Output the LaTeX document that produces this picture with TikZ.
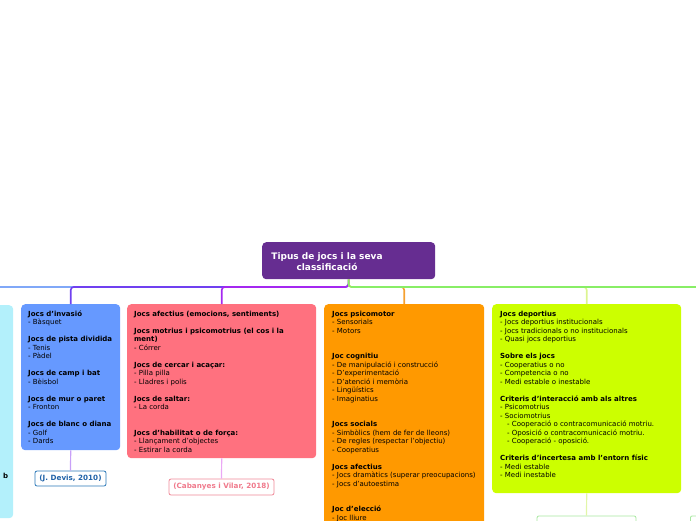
\documentclass[tikz,border=0pt]{standalone}
\usepackage{fontspec}
\setmainfont{DejaVu Sans}
\definecolor{cTitle}{HTML}{662D91}
\definecolor{cBlue}{HTML}{6699FF}
\definecolor{cRed}{HTML}{FF717F}
\definecolor{cOrange}{HTML}{FF9900}
\definecolor{cGreen}{HTML}{CCFF00}
\definecolor{cCyan}{HTML}{B3F0FB}
\definecolor{lLB}{HTML}{80A8F8}
\definecolor{lPur}{HTML}{7040F0}
\definecolor{lVio}{HTML}{A428F0}
\definecolor{lOr}{HTML}{F5A030}
\definecolor{lYG}{HTML}{DCF490}
\definecolor{lGr}{HTML}{88EE66}
\definecolor{lSubB}{HTML}{C8A0F8}
\definecolor{lSubR}{HTML}{EBA8F5}
\definecolor{lSubG}{HTML}{E2F6A8}
\definecolor{kBlueB}{HTML}{2A78B8}
\definecolor{kBlueT}{HTML}{1F62A8}
\definecolor{kRedB}{HTML}{F08898}
\definecolor{kRedT}{HTML}{F07A8C}
\definecolor{kGrB}{HTML}{A8E8A0}
\begin{document}
\begin{tikzpicture}[x=1pt,y=-1pt,
  box/.style={draw=none, rounded corners=4pt, anchor=north west, inner sep=0pt},
  txt/.style={anchor=north west, inner sep=0pt, align=left, font=\fontsize{7}{8.5}\selectfont, text=black},
  lbl/.style={fill=white, rounded corners=2pt, line width=0.8pt, inner sep=0pt, font=\fontsize{7.2}{8}\selectfont\bfseries},
  conn/.style={line width=1.6pt, rounded corners=3pt},
  sub/.style={line width=1.2pt},
]
\useasboundingbox (0,0) rectangle (696,520);
\clip (0,0) rectangle (696,520);

% title
\node[box, fill=cTitle, minimum width=173pt, minimum height=37pt] (title) at (262,242) {};
\node[align=center, text=white, inner sep=0pt, font=\fontsize{9}{11}\selectfont\bfseries] (titletext) at (327,261.5) {Tipus de jocs i la seva\\classificació};

% boxes
\node[box, fill=cCyan, minimum width=80pt, minimum height=213pt] (cy) at (-67,305) {};
\node[box, fill=cBlue, minimum width=99pt, minimum height=146pt] (bl) at (21,304) {};
\node[box, fill=cRed, minimum width=189pt, minimum height=154pt] (rd) at (127,304) {};
\node[box, fill=cOrange, minimum width=160pt, minimum height=240pt] (or) at (324,304) {};
\node[box, fill=cGreen, minimum width=189pt, minimum height=189pt] (gr) at (492,304) {};
\coordinate (rb) at (760,304);

% connectors
\coordinate (hub) at (348.5,287);
\draw[conn, lLB] (title.south) -- (hub) -| (cy.north);
\draw[conn, lPur] (title.south) -- (hub) -| (bl.north);
\draw[conn, lVio] (title.south) -- (hub) -| (rd.north);
\draw[conn, lOr] (title.south) -- (hub) -| (or.north);
\draw[conn, lYG] (title.south) -- (hub) -| (gr.north);
\draw[conn, lGr] (title.south) -- (hub) -| (rb);

% texts
\node[anchor=west, inner sep=0pt, font=\fontsize{7}{8.5}\selectfont\bfseries] (cyt) at (3,476) {b};

\node[txt] (blt) at (28,310.5) {\textbf{Jocs d'invasió}\\- Bàsquet\\[8.5pt]\textbf{Jocs de pista dividida}\\- Tenis\\- Pàdel\\[8.5pt]\textbf{Jocs de camp i bat}\\- Bèisbol\\[8.5pt]\textbf{Jocs de mur o paret}\\- Fronton\\[8.5pt]\textbf{Jocs de blanc o diana}\\- Golf\\- Dards};

\node[txt] (rdt) at (134,310.5) {\textbf{Jocs afectius (emocions, sentiments)}\\[8.5pt]\textbf{Jocs motrius i psicomotrius (el cos i la}\\\textbf{ment)}\\- Córrer\\[8.5pt]\textbf{Jocs de cercar i acaçar:}\\- Pilla pilla\\- Lladres i polis\\[8.5pt]\textbf{Jocs de saltar:}\\- La corda\\[17pt]\textbf{Jocs d'habilitat o de força:}\\- Llançament d'objectes\\- Estirar la corda};

\node[txt] (ort) at (332,310.5) {\textbf{Jocs psicomotor}\\- Sensorials\\- Motors\\[17pt]\textbf{Joc cognitiu}\\- De manipulació i construcció\\- D'experimentació\\- D'atenció i memòria\\- Lingüístics\\- Imaginatius\\[17pt]\textbf{Jocs socials}\\- Simbòlics (hem de fer de lleons)\\- De regles (respectar l'objectiu)\\- Cooperatius\\[8.5pt]\textbf{Jocs afectius}\\- Jocs dramàtics (superar preocupacions)\\- Jocs d'autoestima\\[17pt]\textbf{Joc d'elecció}\\- Joc lliure};

\node[txt] (grt) at (500,310.5) {\textbf{Jocs deportius}\\- Jocs deportius institucionals\\- Jocs tradicionals o no institucionals\\- Quasi jocs deportius\\[8.5pt]\textbf{Sobre els jocs}\\- Cooperatius o no\\- Competencia o no\\- Medi estable o inestable\\[8.5pt]\textbf{Criteris d'interacció amb als altres}\\- Psicomotrius\\- Sociomotrius\\\hspace*{7pt}- Cooperació o contracomunicació motriu.\\\hspace*{7pt}- Oposició o contracomunicació motriu.\\\hspace*{7pt}- Cooperació - oposició.\\[8.5pt]\textbf{Criteris d'incertesa amb l'entorn físic}\\- Medi estable\\- Medi inestable};

% labels
\node[lbl, draw=kBlueB, text=kBlueT, minimum width=71pt, minimum height=15pt] (l1) at (70.5,478.5) {(J. Devis, 2010)};
\node[lbl, draw=kRedB, text=kRedT, minimum width=105pt, minimum height=16pt] (l2) at (221.5,487) {(Cabanyes i Vilar, 2018)};
\node[lbl, draw=kGrB, anchor=north, minimum width=99pt, minimum height=20pt] (l3) at (586.5,515.5) {};
\node[lbl, draw=kGrB, anchor=north west, minimum width=60pt, minimum height=20pt] (l4) at (690,515.5) {};

\draw[sub, lSubB] (bl.south) -- (l1.north);
\draw[sub, lSubR] (rd.south) -- (l2.north);
\draw[sub, lSubG] (gr.south) -- (l3.north);
\end{tikzpicture}
\end{document}
